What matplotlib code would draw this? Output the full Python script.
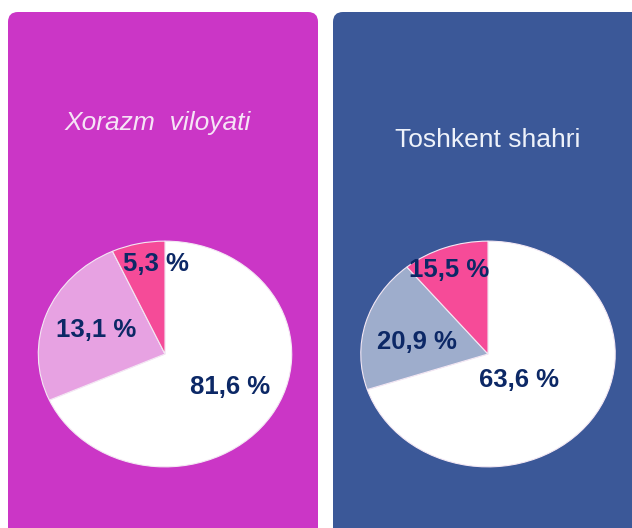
import matplotlib
matplotlib.use("Agg")
import matplotlib.pyplot as plt
from matplotlib.patches import FancyBboxPatch

# panel titles
titles = ["Xorazm  viloyati", "Toshkent shahri"]

# slice shares as drawn in the picture (white, middle, small)
shares_xorazm = [68.3, 24.9, 6.8]
shares_toshkent = [69.9, 19.1, 11.0]

# printed labels
labels_xorazm = ["81,6 %", "13,1 %", "5,3 %"]
labels_toshkent = ["63,6 %", "20,9 %", "15,5 %"]

W, H = 632, 528
fig = plt.figure(figsize=(W / 100, H / 100), dpi=100)
fig.patch.set_facecolor("white")

bg = fig.add_axes([0, 0, 1, 1])
bg.set_xlim(0, W)
bg.set_ylim(H, 0)
bg.axis("off")

# panels
bg.add_patch(FancyBboxPatch((8, 12), 310, 540, boxstyle="round,pad=0,rounding_size=10",
                            fc="#CB36C6", ec="none"))
bg.add_patch(FancyBboxPatch((333, 12), 320, 540, boxstyle="round,pad=0,rounding_size=10",
                            fc="#3B5898", ec="none"))


def px_text(x, y, s, **kw):
    # text placed in pixel coords (y from top), drawn above every axes
    fig.text(x / W, 1 - y / H, s, ha="center", va="center",
             family="Liberation Sans", zorder=10, **kw)


px_text(158, 123, titles[0], fontsize=19, style="italic", color="#F6E4F6")
px_text(488, 140, titles[1], fontsize=19, color="#EEF2FA")


def draw_pie(cx, cy, rx, ry, shares, colors, labels, label_pos):
    ax = fig.add_axes([(cx - rx) / W, (H - cy - ry) / H, 2 * rx / W, 2 * ry / H])
    ax.pie(shares, colors=colors, startangle=90, counterclock=False,
           wedgeprops=dict(edgecolor="#F4E8F4", linewidth=0.8))
    ax.set_aspect("auto")
    ax.set_xlim(-1.01, 1.01)
    ax.set_ylim(-1.01, 1.01)
    ax.axis("off")
    for lab, (x, y) in zip(labels, label_pos):
        px_text(x, y, lab, fontsize=18.5, fontweight="bold", color="#0C2866")


draw_pie(165, 354, 128, 114, shares_xorazm, ["white", "#E7A2E2", "#F54B98"],
         labels_xorazm, [(230, 387), (96, 330), (156, 264)])
draw_pie(488, 354, 128.5, 114, shares_toshkent, ["white", "#9EADCC", "#F64B98"],
         labels_toshkent, [(519, 380), (417, 342), (449, 270)])

fig.savefig("out.png", dpi=100)
